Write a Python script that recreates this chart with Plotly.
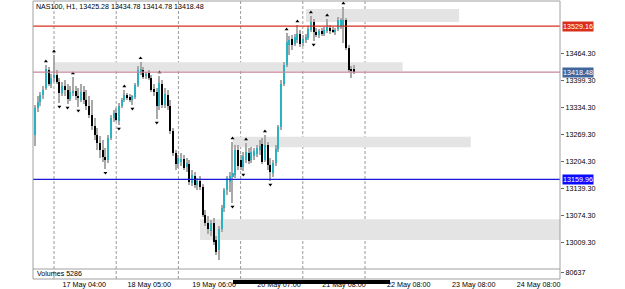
import plotly.graph_objects as go

# ---------------- data ----------------
bar_index = list(range(-7, 112))

opens = [13266.9, 13331.9, 13346.3, 13363.2, 13380.1, 13423.4, 13389.7, 13404.1, 13411.3, 13394.5,
         13368.0, 13384.9, 13375.2, 13353.6, 13370.4, 13372.8, 13360.8, 13351.2, 13370.4, 13351.2,
         13336.7, 13315.0, 13288.6, 13266.9, 13247.6, 13230.8, 13213.9, 13206.7, 13259.7, 13307.8,
         13319.9, 13300.6, 13336.7, 13351.2, 13363.2, 13358.4, 13351.2, 13358.4, 13387.3, 13418.6,
         13423.4, 13408.9, 13416.2, 13404.1, 13377.6, 13370.4, 13336.7, 13389.7, 13339.1, 13363.2,
         13336.7, 13276.5, 13223.6, 13197.1, 13201.9, 13209.1, 13189.9, 13197.1, 13151.3, 13168.2,
         13146.5, 13156.2, 13141.7, 13074.3, 13055.0, 13035.8, 13055.0, 13014.1, 12990.1, 13040.6,
         13091.2, 13134.5, 13153.8, 13165.8, 13170.6, 13230.8, 13206.7, 13189.9, 13206.7, 13223.6,
         13206.7, 13216.3, 13221.2, 13230.8, 13245.2, 13206.7, 13242.8, 13194.7, 13175.4, 13199.5,
         13233.2, 13286.2, 13389.7, 13435.4, 13483.5, 13498.0, 13485.9, 13495.6, 13510.1, 13488.4,
         13495.6, 13500.4, 13519.7, 13538.9, 13514.9, 13507.6, 13517.3, 13510.1, 13517.3, 13524.5,
         13519.7, 13514.9, 13522.1, 13526.9, 13526.9, 13543.8, 13476.3, 13425.8, 13425.28]

highs = [13339.1, 13360.8, 13370.4, 13384.9, 13435.4, 13430.6, 13413.8, 13459.5, 13423.4, 13404.1,
         13394.5, 13399.3, 13389.7, 13384.9, 13406.5, 13384.9, 13380.1, 13389.7, 13384.9, 13375.2,
         13360.8, 13351.2, 13307.8, 13283.8, 13264.5, 13254.9, 13235.6, 13266.9, 13315.0, 13327.1,
         13331.9, 13343.9, 13356.0, 13375.2, 13368.0, 13365.6, 13363.2, 13392.1, 13433.0, 13442.7,
         13430.6, 13418.6, 13423.4, 13411.3, 13389.7, 13380.1, 13408.9, 13399.3, 13380.1, 13375.2,
         13351.2, 13283.8, 13230.8, 13218.8, 13223.6, 13218.8, 13211.5, 13206.7, 13182.6, 13177.8,
         13163.4, 13168.2, 13148.9, 13086.3, 13071.9, 13062.3, 13067.1, 13023.8, 13047.8, 13098.4,
         13139.3, 13168.2, 13177.8, 13250.0, 13242.8, 13242.8, 13218.8, 13226.0, 13247.6, 13235.6,
         13238.0, 13235.6, 13242.8, 13254.9, 13259.7, 13266.9, 13250.0, 13211.5, 13206.7, 13242.8,
         13291.0, 13399.3, 13442.7, 13512.5, 13505.2, 13507.6, 13510.1, 13531.7, 13519.7, 13507.6,
         13510.1, 13529.3, 13553.4, 13546.2, 13524.5, 13522.1, 13524.5, 13526.9, 13546.2, 13531.7,
         13526.9, 13524.5, 13551.0, 13548.6, 13575.0, 13548.6, 13483.5, 13433.0, 13434.78]

lows = [13240.4, 13322.3, 13336.7, 13353.6, 13375.2, 13384.9, 13380.1, 13394.5, 13389.7, 13343.9,
        13360.8, 13360.8, 13341.5, 13348.8, 13360.8, 13351.2, 13334.3, 13346.3, 13341.5, 13327.1,
        13307.8, 13278.9, 13254.9, 13230.8, 13211.5, 13201.9, 13185.0, 13199.5, 13254.9, 13298.2,
        13300.6, 13291.0, 13331.9, 13346.3, 13351.2, 13346.3, 13339.1, 13353.6, 13382.5, 13411.3,
        13401.7, 13401.7, 13399.3, 13370.4, 13360.8, 13305.4, 13327.1, 13331.9, 13331.9, 13327.1,
        13269.3, 13216.3, 13182.6, 13187.5, 13192.3, 13182.6, 13177.8, 13146.5, 13144.1, 13139.3,
        13134.5, 13134.5, 13069.5, 13047.8, 13028.6, 13023.8, 13002.1, 12978.0, 12965.9, 13033.4,
        13081.5, 13122.5, 13129.7, 13103.2, 13163.4, 13182.6, 13182.6, 13180.2, 13199.5, 13197.1,
        13199.5, 13206.7, 13213.9, 13218.8, 13197.1, 13201.9, 13182.6, 13156.2, 13165.8, 13192.3,
        13226.0, 13278.9, 13384.9, 13430.6, 13459.5, 13471.5, 13481.1, 13488.4, 13478.7, 13481.1,
        13488.4, 13495.6, 13514.9, 13493.2, 13502.8, 13500.4, 13505.2, 13505.2, 13512.5, 13510.1,
        13512.5, 13507.6, 13517.3, 13522.1, 13488.4, 13471.5, 13418.6, 13404.1, 13414.78]

closes = [13331.9, 13346.3, 13363.2, 13375.2, 13425.8, 13389.7, 13404.1, 13411.3, 13394.5, 13368.0,
          13384.9, 13375.2, 13353.6, 13370.4, 13372.8, 13360.8, 13356.0, 13370.4, 13351.2, 13336.7,
          13315.0, 13288.6, 13266.9, 13247.6, 13230.8, 13213.9, 13206.7, 13259.7, 13307.8, 13319.9,
          13303.0, 13336.7, 13351.2, 13363.2, 13356.0, 13351.2, 13360.8, 13387.3, 13423.4, 13425.8,
          13406.5, 13413.8, 13404.1, 13375.2, 13370.4, 13336.7, 13392.1, 13339.1, 13365.6, 13336.7,
          13276.5, 13223.6, 13197.1, 13211.5, 13209.1, 13187.5, 13199.5, 13153.8, 13170.6, 13146.5,
          13156.2, 13141.7, 13074.3, 13055.0, 13040.6, 13055.0, 13009.3, 12985.2, 13040.6, 13091.2,
          13134.5, 13163.4, 13168.2, 13175.4, 13230.8, 13192.3, 13189.9, 13216.3, 13226.0, 13204.3,
          13226.0, 13228.4, 13235.6, 13240.4, 13201.9, 13242.8, 13194.7, 13177.8, 13199.5, 13233.2,
          13286.2, 13389.7, 13435.4, 13490.8, 13495.6, 13483.5, 13502.8, 13510.1, 13485.9, 13498.0,
          13502.8, 13522.1, 13538.9, 13514.9, 13507.6, 13517.3, 13510.1, 13519.7, 13526.9, 13517.3,
          13514.9, 13517.3, 13543.8, 13543.8, 13543.8, 13476.3, 13423.4, 13421.0, 13418.48]

fractal_up = [-3, 0, 7, 26, 32, 39, 66, 71, 78, 86, 90, 95, 101, 107]
fractal_down = [2, 5, 9, 19, 24, 29, 38, 66, 70, 80, 96]

day_separators = [0, 23, 46, 69, 92, 115]
time_tick_pos = [11.2, 35.2, 59.2, 83.2, 107.2, 131.2, 155.2, 179.2]
time_tick_text = ["17 May 04:00", "18 May 05:00", "19 May 06:00", "20 May 07:00",
                  "21 May 08:00", "22 May 08:00", "23 May 08:00", "24 May 08:00"]

price_ticks = [13009.30, 13074.30, 13139.30, 13204.30, 13269.30, 13334.30, 13399.30, 13464.30]

zone_x0 = [93.2, 0.3, 66.2, 54.0]
zone_x1 = [149.8, 128.9, 154.1, 190.0]
zone_lo = [13538.9, 13420.5, 13237.3, 13014.1]
zone_hi = [13570.2, 13441.9, 13262.8, 13063.9]

level_values = [13529.16, 13418.48, 13159.96]
level_colors = ["#d9301c", "#c7869a", "#1a1ad6"]
level_label_bg = ["#d9301c", "#3f679c", "#0a0aff"]

title_text = "NAS100, H1, 13425.28 13434.78 13414.78 13418.48"
volume_text = "Volumes 5286"
volume_max = 80637

# ---------------- layout constants ----------------
X_MIN, X_MAX = -7.77, 187.1
Y_MIN, Y_MAX = 12944.3, 13589.5
FONT = "Liberation Sans"
BULL = "#2bb2c2"
BEAR = "#000000"
WICK = "#a9a9a9"

fig = go.Figure()

# wicks
fig.add_trace(go.Bar(
    x=bar_index, y=[h - l for h, l in zip(highs, lows)], base=lows,
    width=0.38, marker=dict(color=WICK, line=dict(width=0)),
    xaxis="x", yaxis="y", hoverinfo="skip", showlegend=False))

# bodies
body_base = [min(o, c) for o, c in zip(opens, closes)]
body_h = [max(abs(c - o), 1.2) for o, c in zip(opens, closes)]
body_col = [BULL if c >= o else BEAR for o, c in zip(opens, closes)]
fig.add_trace(go.Bar(
    x=bar_index, y=body_h, base=body_base,
    width=0.74, marker=dict(color=body_col, line=dict(width=0)),
    xaxis="x", yaxis="y", hoverinfo="skip", showlegend=False))

# fractals
hi_map = dict(zip(bar_index, highs))
lo_map = dict(zip(bar_index, lows))
fig.add_trace(go.Scatter(
    x=fractal_up, y=[hi_map[i] + 9 for i in fractal_up], mode="markers",
    marker=dict(symbol="triangle-up", size=3.5, color="black"),
    xaxis="x", yaxis="y", hoverinfo="skip", showlegend=False))
fig.add_trace(go.Scatter(
    x=fractal_down, y=[lo_map[i] - 9 for i in fractal_down], mode="markers",
    marker=dict(symbol="triangle-down", size=3.5, color="black"),
    xaxis="x", yaxis="y", hoverinfo="skip", showlegend=False))

# empty trace so the volume sub-pane (y2) is created
fig.add_trace(go.Scatter(x=[None], y=[None], mode="markers", xaxis="x", yaxis="y2",
                         hoverinfo="skip", showlegend=False))

shapes = []
# zones
for x0, x1, lo, hi in zip(zone_x0, zone_x1, zone_lo, zone_hi):
    shapes.append(dict(type="rect", xref="x", yref="y", x0=x0, x1=min(x1, X_MAX),
                       y0=lo, y1=hi, fillcolor="#e4e4e4", line=dict(width=0), layer="below"))
# day separators
for d in day_separators:
    shapes.append(dict(type="line", xref="x", yref="paper", x0=d, x1=d, y0=0, y1=1,
                       line=dict(color="#9a9a9a", width=1, dash="3px,2px"), layer="below"))
# level lines
for v, c in zip(level_values, level_colors):
    shapes.append(dict(type="line", xref="paper", yref="y", x0=0, x1=1, y0=v, y1=v,
                       line=dict(color=c, width=1.3), layer="above"))

H_PLOT = 278.0
W_PLOT = 527.0
def py(p):
    return (279.0 - p) / H_PLOT
def px(p):
    return (p - 33.0) / W_PLOT

VOL_TOP = py(269)
# frame and pane separator
shapes.append(dict(type="rect", xref="paper", yref="paper", x0=0, x1=1, y0=0, y1=1,
                   line=dict(color="#a0a0a0", width=1), layer="above"))
shapes.append(dict(type="line", xref="paper", yref="paper", x0=0, x1=1, y0=VOL_TOP, y1=VOL_TOP,
                   line=dict(color="#a0a0a0", width=1), layer="above"))
# black strike over time labels
shapes.append(dict(type="line", xref="paper", yref="paper", x0=px(233), x1=px(390),
                   y0=py(282.0), y1=py(282.0), line=dict(color="black", width=4), layer="above"))

annotations = []
annotations.append(dict(xref="paper", yref="paper", x=px(34), y=py(6.8), xanchor="left",
                        yanchor="middle", text=title_text, showarrow=False,
                        font=dict(family=FONT, size=7.1, color="black")))
annotations.append(dict(xref="paper", yref="paper", x=px(34.5), y=py(273.8), xanchor="left",
                        yanchor="middle", text=volume_text, showarrow=False,
                        font=dict(family=FONT, size=7.1, color="black")))
for v, bg in zip(level_values, level_label_bg):
    annotations.append(dict(xref="paper", yref="y", x=1, y=v, xanchor="left", yanchor="middle",
                            xshift=2, text=f"{v:.2f}", showarrow=False, bgcolor=bg, borderpad=0,
                            font=dict(family=FONT, size=7.2, color="white")))

fig.update_layout(
    width=625, height=289,
    margin=dict(l=33, r=65, t=1, b=10, autoexpand=False),
    paper_bgcolor="white", plot_bgcolor="white",
    barmode="overlay", bargap=0, showlegend=False,
    shapes=shapes, annotations=annotations,
    xaxis=dict(range=[X_MIN, X_MAX], anchor="y2", showgrid=False, zeroline=False,
               showline=False, tickvals=time_tick_pos, ticktext=time_tick_text, ticks="",
               automargin=False,
               tickfont=dict(family=FONT, size=7.2, color="black"), fixedrange=True),
    yaxis=dict(domain=[VOL_TOP, 1], range=[Y_MIN, Y_MAX], side="right", anchor="x",
               showgrid=False, zeroline=False, showline=False, automargin=False,
               tickvals=price_ticks, ticktext=[f"{t:.2f}" for t in price_ticks],
               ticks="outside", ticklen=3, tickcolor="#666666", tickwidth=1,
               tickfont=dict(family=FONT, size=7.2, color="black")),
    yaxis2=dict(domain=[0, VOL_TOP], range=[0, 130000], side="right", anchor="x",
                showgrid=False, zeroline=False, showline=False, automargin=False,
                tickvals=[volume_max], ticktext=[str(volume_max)], ticks="outside",
                ticklen=3, tickcolor="#666666",
                tickfont=dict(family=FONT, size=7.2, color="black")),
)

fig.write_html("out.html")
